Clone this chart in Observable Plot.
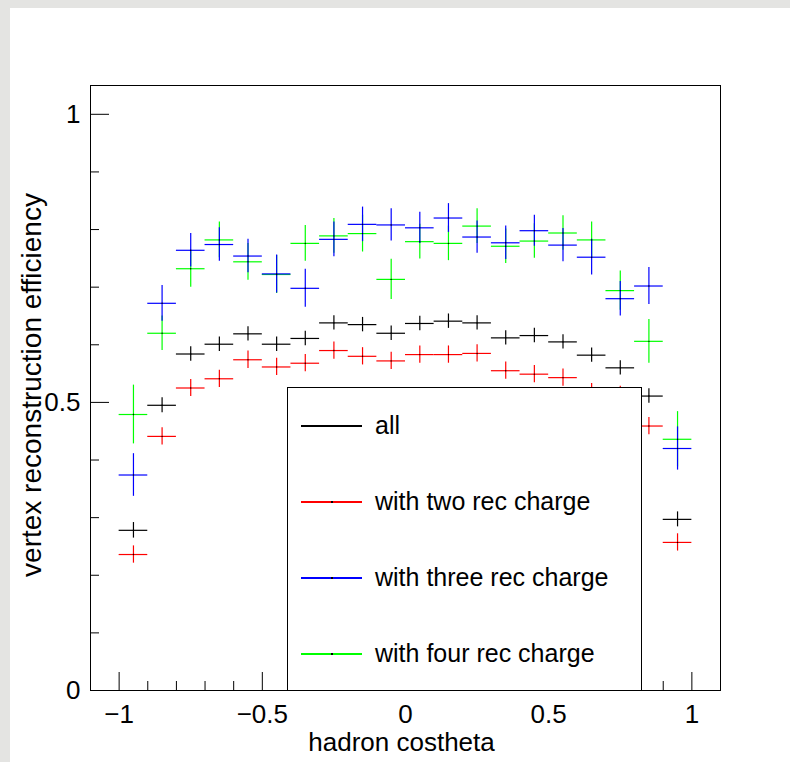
<!DOCTYPE html>
<html><head><meta charset="utf-8">
<script src="https://cdn.jsdelivr.net/npm/d3@7"></script>
<script src="https://cdn.jsdelivr.net/npm/@observablehq/plot@0.6"></script>
<style>
html,body{margin:0;padding:0;}
body{width:790px;height:762px;background:#e4e4e2;position:relative;overflow:hidden;font-family:'Liberation Sans',Arial,Helvetica,sans-serif;}
#panel{position:absolute;left:10px;top:8px;right:0;bottom:0;background:#fff;}
#chart{position:absolute;left:0;top:0;}
#legend{position:absolute;left:287px;top:387px;width:355px;height:303px;background:#fff;border:1px solid #000;border-bottom:none;box-sizing:border-box;}
.row{position:absolute;left:0;height:0;}
.sample{position:absolute;left:13px;width:61px;top:-1px;height:1.5px;}
.mk{position:absolute;left:43px;top:-1px;width:1.5px;height:1.5px;background:#000;}
.lab{position:absolute;left:87px;top:-15px;font-size:25px;line-height:29px;white-space:nowrap;color:#000;}
</style></head><body>
<div id="panel"></div>
<div id="chart"></div>
<div id="legend"></div>
<script>
// bin centres of hadron cos(theta)
const binCenters = [-0.95,-0.85,-0.75,-0.65,-0.55,-0.45,-0.35,-0.25,-0.15,-0.05,0.05,0.15,0.25,0.35,0.45,0.55,0.65,0.75,0.85,0.95];
const binHalfWidth = 0.05;

// "all"
const allEff = [0.278,0.495,0.584,0.601,0.619,0.601,0.611,0.638,0.635,0.620,0.637,0.641,0.638,0.612,0.616,0.605,0.582,0.560,0.511,0.297];
const allErr = [0.0135,0.013,0.0125,0.0125,0.0125,0.0125,0.0125,0.0125,0.0125,0.0125,0.0125,0.0125,0.0125,0.0125,0.0125,0.0125,0.0125,0.0125,0.0125,0.0130];
// "with two rec charge"
const twoEff = [0.236,0.441,0.525,0.541,0.574,0.5615,0.568,0.590,0.580,0.572,0.583,0.583,0.585,0.555,0.549,0.543,0.518,0.513,0.459,0.257];
const twoErr = [0.015,0.015,0.0147,0.015,0.015,0.015,0.015,0.015,0.015,0.015,0.015,0.015,0.015,0.015,0.015,0.015,0.015,0.015,0.015,0.015];
// "with three rec charge"
const threeEff = [0.374,0.672,0.764,0.774,0.754,0.723,0.698,0.783,0.809,0.808,0.803,0.820,0.787,0.777,0.798,0.773,0.752,0.680,0.702,0.420];
const threeErr = [0.037,0.031,0.029,0.029,0.029,0.033,0.033,0.030,0.030,0.028,0.027,0.025,0.028,0.029,0.027,0.029,0.031,0.030,0.032,0.0375];
// "with four rec charge"
const fourEff = [0.479,0.620,0.732,0.782,0.744,0.722,0.776,0.789,0.793,0.7135,0.779,0.776,0.806,0.771,0.780,0.794,0.782,0.694,0.606,0.436];
const fourErr = [0.051,0.030,0.032,0.031,0.032,0.033,0.031,0.030,0.032,0.035,0.030,0.030,0.030,0.030,0.030,0.030,0.031,0.034,0.038,0.048];

const seriesNames = ["all","with two rec charge","with three rec charge","with four rec charge"];
const seriesColors = ["#000000","#ff0000","#0000ff","#00ff00"];

const xMajorTicks = [-1,-0.5,0,0.5,1];
const xMinorTicks = [-0.9,-0.8,-0.7,-0.6,-0.4,-0.3,-0.2,-0.1,0.1,0.2,0.3,0.4,0.6,0.7,0.8,0.9];
const yMajorTicks = [0,0.5,1];
const yMinorTicks = [0.1,0.2,0.3,0.4,0.6,0.7,0.8,0.9];
const xTitle = "hadron costheta";
const yTitle = "vertex reconstruction efficiency";

const effs = [allEff, twoEff, threeEff, fourEff];
const errs = [allErr, twoErr, threeErr, fourErr];
const tables = effs.map((eff, s) => binCenters.map((x, i) => ({series: seriesNames[s], x, y: eff[i], e: errs[s][i]})));

const fmt = d => d < 0 ? "\u2212" + Math.abs(d) : String(d);

// draw order: all, two, four, three (three on top of four)
const order = [0, 1, 3, 2];
const dataMarks = [];
for (const s of order) {
  const t = tables[s];
  dataMarks.push(Plot.ruleX(t, {x: "x", y1: d => d.y - d.e, y2: d => d.y + d.e, stroke: seriesColors[s], strokeWidth: 1.2}));
  dataMarks.push(Plot.ruleY(t, {y: "y", x1: d => d.x - binHalfWidth, x2: d => d.x + binHalfWidth, stroke: seriesColors[s], strokeWidth: 1.2}));
}
const allRows = order.flatMap(s => tables[s]);

const chart = Plot.plot({
  width: 790, height: 762,
  marginLeft: 90, marginRight: 70, marginTop: 85, marginBottom: 72,
  style: {background: "transparent", fontFamily: "'Liberation Sans', Arial, Helvetica, sans-serif", color: "#000"},
  x: {domain: [-1.1, 1.1]},
  y: {domain: [0, 1.05]},
  marks: [
    ...dataMarks,
    Plot.dot(allRows, {x: "x", y: "y", r: 0.7, fill: "#000", stroke: null}),
    Plot.tickX(xMinorTicks, {x: d => d, stroke: "#000", insetTop: 596}),
    Plot.tickX(xMajorTicks, {x: d => d, stroke: "#000", insetTop: 587}),
    Plot.tickY(yMinorTicks, {y: d => d, stroke: "#000", insetRight: 621}),
    Plot.tickY(yMajorTicks, {y: d => d, stroke: "#000", insetRight: 611}),
    Plot.frame({stroke: "#000"}),
    Plot.axisX({ticks: xMajorTicks, tickSize: 0, tickPadding: 14, fontSize: 26, tickFormat: fmt, label: null}),
    Plot.axisY({ticks: yMajorTicks, tickSize: 0, tickPadding: 10, fontSize: 26, tickFormat: fmt, label: null}),
    Plot.text([xTitle], {frameAnchor: "bottom", text: d => d, dy: 52, dx: -4, fontSize: 26, lineAnchor: "middle", fill: "#000"}),
    Plot.text([yTitle], {frameAnchor: "left", text: d => d, dx: -58, dy: -3, rotate: -90, fontSize: 28, lineAnchor: "middle", textAnchor: "middle", fill: "#000"})
  ]
});
document.getElementById("chart").appendChild(chart);

// legend
const legend = document.getElementById("legend");
const rowTops = [38, 114, 190, 266];
seriesNames.forEach((name, i) => {
  const row = document.createElement("div");
  row.className = "row";
  row.style.top = rowTops[i] + "px";
  row.innerHTML = `<div class="sample" style="background:${seriesColors[i]}"></div>` +
    (i > 0 ? `<div class="mk"></div>` : "") +
    `<div class="lab">${name}</div>`;
  legend.appendChild(row);
});
</script>
</body></html>
